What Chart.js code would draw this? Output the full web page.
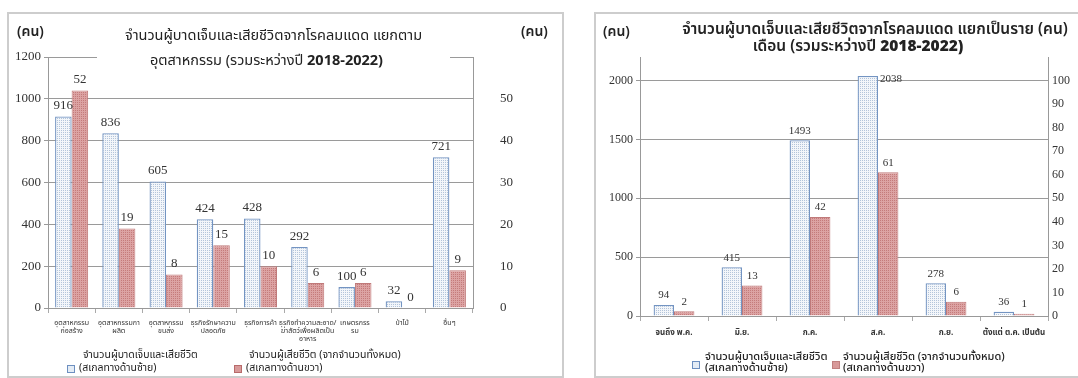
<!DOCTYPE html>
<html><head><meta charset="utf-8">
<script src="https://cdn.jsdelivr.net/npm/chart.js@4.4.1/dist/chart.umd.min.js"></script>
<style>
body{margin:0;width:1078px;height:378px;position:relative;background:#fff;overflow:hidden;font-family:"Noto Sans Thai","Tahoma","Noto Sans",sans-serif;color:#222}
.t{position:absolute;white-space:nowrap}
.frame{position:absolute;border:2px solid #cdcdcd;box-sizing:border-box}
canvas{position:absolute}
.ico{position:absolute;width:8px;height:8px;box-sizing:border-box}
</style></head><body>
<div class="frame" style="left:7px;top:12px;width:557px;height:366px"></div>
<div class="frame" style="left:594px;top:12px;width:500px;height:366px"></div>
<canvas id="c1" width="553" height="362" style="left:9px;top:14px"></canvas>
<canvas id="c2" width="482" height="362" style="left:596px;top:14px"></canvas>

<div class="t" style="left:97px;top:20px;width:353px;height:52px;background:#fff"></div>
<div class="t" style="left:97px;top:26px;width:353px;text-align:center;font-size:14.5px;line-height:20px">จำนวนผู้บาดเจ็บและเสียชีวิตจากโรคลมแดด แยกตาม</div>
<div class="t" style="left:90px;top:51px;width:353px;text-align:center;font-size:14.5px;line-height:20px">อุตสาหกรรม (รวมระหว่างปี <b>2018-2022)</b></div>
<div class="t" style="left:17px;top:23px;font-size:14px;font-weight:600;line-height:18px">(คน)</div>
<div class="t" style="left:521px;top:23px;font-size:14px;font-weight:600;line-height:18px">(คน)</div>

<div class="t" style="left:603px;top:23px;font-size:14px;font-weight:600;line-height:18px">(คน)</div>
<div class="t" style="left:665px;top:20px;width:420px;text-align:center;font-size:15.5px;font-weight:600;line-height:20px">จำนวนผู้บาดเจ็บและเสียชีวิตจากโรคลมแดด แยกเป็นราย (คน)</div>
<div class="t" style="left:640px;top:37px;width:436px;text-align:center;font-size:15.5px;font-weight:600;line-height:20px">เดือน (รวมระหว่างปี <b>2018-2022)</b></div>

<div class="t" style="left:83px;top:348px;font-size:10.5px;line-height:14px">จำนวนผู้บาดเจ็บและเสียชีวิต</div>
<div class="ico" style="left:67px;top:365px;border:1px solid #6d8fc0;background:#e4ecf5"></div>
<div class="t" style="left:79px;top:361px;font-size:10.5px;line-height:14px">(สเกลทางด้านซ้าย)</div>
<div class="t" style="left:249px;top:348px;font-size:10.5px;line-height:14px">จำนวนผู้เสียชีวิต (จากจำนวนทั้งหมด)</div>
<div class="ico" style="left:234px;top:365px;border:1px solid #b86a6a;background:#d89a9a"></div>
<div class="t" style="left:246px;top:361px;font-size:10.5px;line-height:14px">(สเกลทางด้านขวา)</div>

<div class="ico" style="left:692px;top:361px;border:1px solid #6d8fc0;background:#e4ecf5"></div>
<div class="t" style="left:705px;top:351px;font-size:11px;line-height:11px;font-weight:500">จำนวนผู้บาดเจ็บและเสียชีวิต<br>(สเกลทางด้านซ้าย)</div>
<div class="ico" style="left:832px;top:361px;border:1px solid #c08080;background:#d89a9a"></div>
<div class="t" style="left:843px;top:351px;font-size:11px;line-height:11px;font-weight:500">จำนวนผู้เสียชีวิต (จากจำนวนทั้งหมด)<br>(สเกลทางด้านขวา)</div>

<script>
const leftCategories = [["อุตสาหกรรม","ก่อสร้าง"],["อุตสาหกรรมกา","ผลิต"],["อุตสาหกรรม","ขนส่ง"],["ธุรกิจรักษาความ","ปลอดภัย"],["ธุรกิจการค้า"],["ธุรกิจทำความสะอาด/","ฆ่าสัตว์เพื่อผลิตเป็น","อาหาร"],["เกษตรกรร","รม"],["ป่าไม้"],["อื่นๆ"]];
const leftInjured = [916,836,605,424,428,292,100,32,721];
const leftDeaths = [52,19,8,15,10,6,6,0,9];
const leftYTicks = [0,200,400,600,800,1000,1200];
const leftY1Ticks = [0,10,20,30,40,50];

const rightCategories = ["จนถึง พ.ค.","มิ.ย.","ก.ค.","ส.ค.","ก.ย.","ตั้งแต่ ต.ค. เป็นต้น"];
const rightInjured = [94,415,1493,2038,278,36];
const rightDeaths = [2,13,42,61,6,1];
const rightYTicks = [0,500,1000,1500,2000];
const rightY1Ticks = [0,10,20,30,40,50,60,70,80,90,100];

Chart.defaults.devicePixelRatio = 1;
Chart.defaults.animation = false;

function pattern(bg, dot){
  const c = document.createElement('canvas'); c.width = 2; c.height = 2;
  const g = c.getContext('2d');
  g.fillStyle = bg; g.fillRect(0,0,2,2);
  g.fillStyle = dot; g.fillRect(0,0,1,1);
  return g.createPattern(c,'repeat');
}
const bluePat = pattern('#f3f6fa','#b3c4da');
const redPat = pattern('#dca3a3','#c47b7b');

const serif = '"Liberation Serif","DejaVu Serif",serif';
const thai = '"Noto Sans Thai","Tahoma","Noto Sans",sans-serif';

const valueLabels = {
  id:'valueLabels',
  afterDatasetsDraw(chart, args, opts){
    const ctx = chart.ctx;
    ctx.save();
    ctx.font = opts.size + 'px ' + serif;
    ctx.fillStyle = '#333';
    chart.data.datasets.forEach((ds, di) => {
      chart.getDatasetMeta(di).data.forEach((bar, i) => {
        const beside = opts.beside && opts.beside[0] === di && opts.beside[1] === i;
        if (beside) {
          ctx.textAlign = 'left'; ctx.textBaseline = 'middle';
          ctx.fillText(String(ds.data[i]), bar.x + bar.width/2 + 2, bar.y + 3);
        } else {
          ctx.textAlign = 'center'; ctx.textBaseline = 'bottom';
          ctx.fillText(String(ds.data[i]), bar.x, bar.y - opts.gap);
        }
      });
    });
    ctx.restore();
  }
};

function setTicks(arr){ return s => { s.ticks = arr.map(v => ({value:v})); }; }
const plain = v => String(v);

function makeChart(id, cats, inj, dth, yMax, yTicks, y1Max, y1Ticks, geo, catFont, lblSize, beside){
  return new Chart(document.getElementById(id), {
    type:'bar',
    data:{labels:cats, datasets:[
      {data:inj, yAxisID:'y', backgroundColor:bluePat, borderColor:'#7394c2', borderWidth:1.3, categoryPercentage:geo.cp, barPercentage:1},
      {data:dth, yAxisID:'y1', backgroundColor:redPat, borderColor:'#c07a7a', borderWidth:1, categoryPercentage:geo.cp, barPercentage:1}
    ]},
    options:{
      responsive:false,
      layout:{padding:{top:geo.top, bottom:0, left:0, right:0}},
      plugins:{legend:{display:false}, tooltip:{enabled:false}, valueLabels:{size:lblSize, gap:geo.gap, beside:beside}},
      scales:{
        x:{offset:true, grid:{offset:true, drawOnChartArea:false, tickLength:5, color:'#aaa'}, border:{color:'#999'},
           ticks:{font:{family:thai, size:catFont.size, weight:catFont.weight, lineHeight:1.2}, color:'#333', maxRotation:0, autoSkip:false, padding:geo.xpad},
           afterFit(s){ s.height = geo.xh; }},
        y:{min:0, max:yMax, afterBuildTicks:setTicks(yTicks), grid:{color:'#9a9a9a', tickLength:4}, border:{color:'#999'},
           ticks:{font:{family:serif, size:geo.tickSize}, color:'#333', padding:3, callback:plain},
           afterFit(s){ s.width = geo.yw; }},
        y1:{position:'right', min:0, max:y1Max, afterBuildTicks:setTicks(y1Ticks), grid:{drawOnChartArea:false, drawTicks:false}, border:{color:'#999'},
           ticks:{font:{family:serif, size:geo.tickSize}, color:'#333', padding:geo.y1pad, callback:plain},
           afterFit(s){ s.width = geo.y1w; }}
      }
    },
    plugins:[valueLabels]
  });
}

makeChart('c1', leftCategories, leftInjured, leftDeaths, 1200, leftYTicks, 60, leftY1Ticks,
  {cp:0.7, top:43, xh:68, yw:39, y1w:89, y1pad:27, xpad:6, gap:4, tickSize:13}, {size:7, weight:'normal'}, 13, null);
makeChart('c2', rightCategories, rightInjured, rightDeaths, 2200, rightYTicks, 110, rightY1Ticks,
  {cp:0.6, top:43, xh:60, yw:44, y1w:30, y1pad:4, xpad:8, gap:4, tickSize:12}, {size:8, weight:'bold'}, 11, [0,3]);
</script>
</body></html>
